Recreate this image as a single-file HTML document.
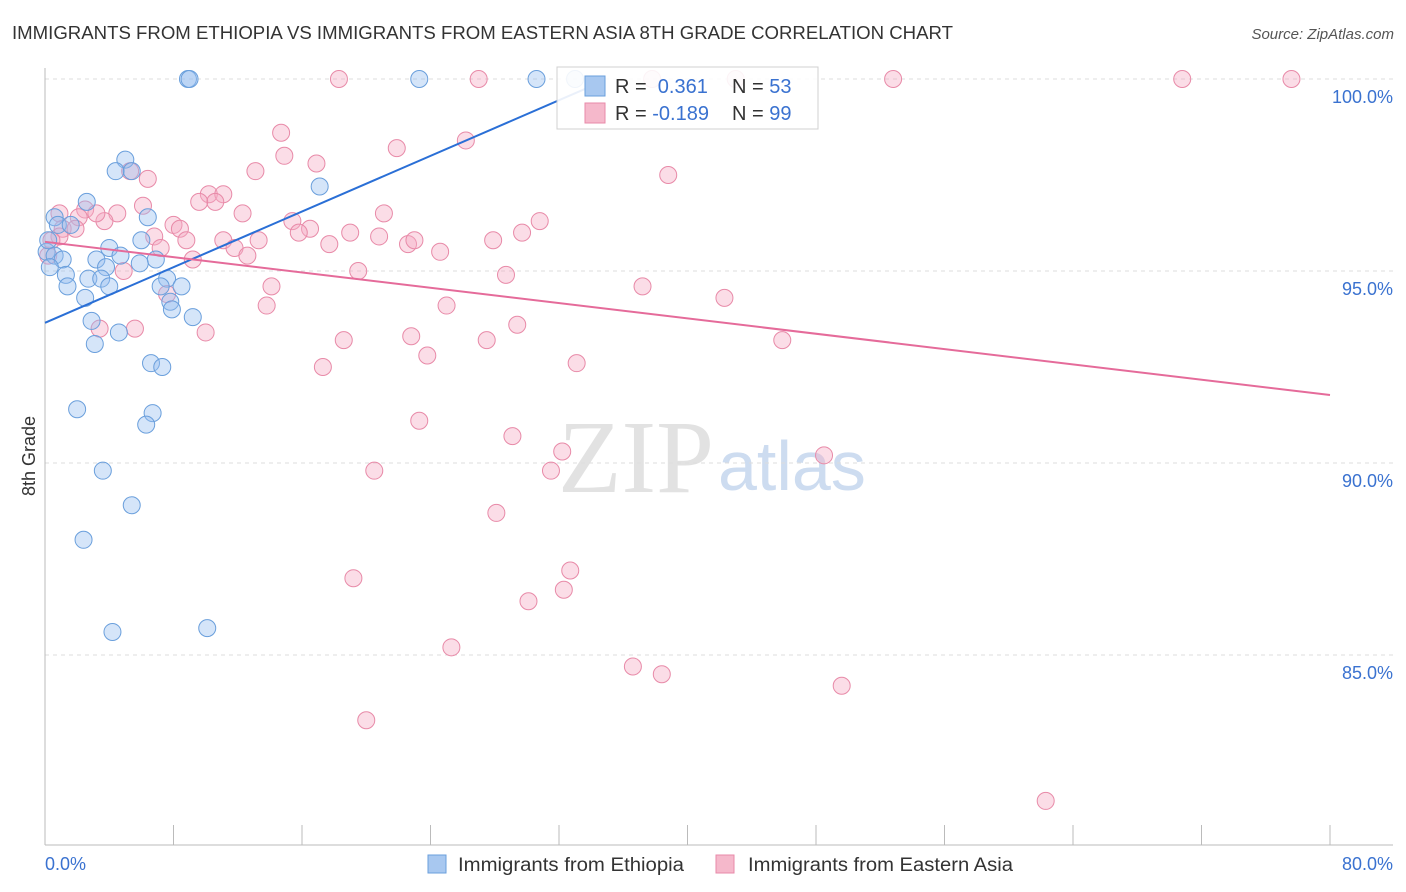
<!DOCTYPE html>
<html><head><meta charset="utf-8"><style>
body{margin:0;background:#fff;font-family:"Liberation Sans",sans-serif}
svg{display:block}
</style></head><body>
<svg id="chart" width="1406" height="892">
<text x="12" y="39" font-size="18" fill="#333" textLength="941" lengthAdjust="spacingAndGlyphs">IMMIGRANTS FROM ETHIOPIA VS IMMIGRANTS FROM EASTERN ASIA 8TH GRADE CORRELATION CHART</text>
<text x="1394" y="39" font-size="15" fill="#555" font-style="italic" text-anchor="end">Source: ZipAtlas.com</text>
<text x="714" y="492" font-size="104" font-family="Liberation Serif,serif" fill="#e2e2e2" text-anchor="end">ZIP</text>
<text x="718" y="490" font-size="70" fill="#cddcf0">atlas</text>
<text transform="translate(35,456) rotate(-90)" font-size="18" fill="#333" text-anchor="middle">8th Grade</text>
<g id="grid"></g><g id="marks"></g><g id="trends"></g>
<g>
<rect x="557" y="67" width="261" height="62" fill="#fff" stroke="#ccc" opacity="0.9"/>
<rect x="585" y="76" width="20" height="20" fill="#a8c8f0" stroke="#6a9fdc"/>
<rect x="585" y="103" width="20" height="20" fill="#f5b8cb" stroke="#e88aa8"/>
<text x="615" y="93" font-size="20" fill="#333">R = <tspan fill="#3a72d0">&#160;0.361</tspan><tspan x="732">N = </tspan><tspan fill="#3a72d0">53</tspan></text>
<text x="615" y="120" font-size="20" fill="#333">R = <tspan fill="#3a72d0">-0.189</tspan><tspan x="732">N = </tspan><tspan fill="#3a72d0">99</tspan></text>
</g>
<g>
<rect x="428" y="855" width="18" height="18" fill="#a8c8f0" stroke="#6a9fdc"/>
<text x="458" y="871" font-size="19" fill="#333" textLength="226" lengthAdjust="spacingAndGlyphs">Immigrants from Ethiopia</text>
<rect x="716" y="855" width="18" height="18" fill="#f5b8cb" stroke="#e88aa8"/>
<text x="748" y="871" font-size="19" fill="#333" textLength="265" lengthAdjust="spacingAndGlyphs">Immigrants from Eastern Asia</text>
</g>
</svg>
<script>
const yTicks=[100,95,90,85];
const yTickLabels=["100.0%","95.0%","90.0%","85.0%"];
const xTicks=[0,8,16,24,32,40,48,56,64,72,80];
const xTickLabels=["0.0%","80.0%"];
const ethX=[8.9,9.0,23.3,30.6,33.0,5.0,4.4,5.4,17.1,2.6,0.6,6.4,0.8,1.6,6.0,4.0,0.1,0.6,1.1,3.2,4.7,6.9,5.9,3.8,1.3,2.7,3.5,7.6,1.4,4.0,7.2,8.5,2.5,7.8,7.9,9.2,2.9,4.6,3.1,6.6,7.3,2.0,6.7,6.3,3.6,5.4,2.4,4.2,10.1,0.3,0.2];
const ethY=[100,100,100,100,100,97.9,97.6,97.6,97.2,96.8,96.4,96.4,96.2,96.2,95.8,95.6,95.5,95.4,95.3,95.3,95.4,95.3,95.2,95.1,94.9,94.8,94.8,94.8,94.6,94.6,94.6,94.6,94.3,94.2,94.0,93.8,93.7,93.4,93.1,92.6,92.5,91.4,91.3,91.0,89.8,88.9,88.0,85.6,85.7,95.1,95.8];
const easX=[18.3,27.0,37.8,43.0,52.8,70.8,77.6,14.7,26.2,21.9,14.9,16.9,38.8,13.1,6.4,5.3,10.2,11.1,10.6,9.6,12.3,6.1,2.5,0.9,4.5,2.1,3.7,8.0,1.1,1.9,8.4,6.8,15.4,16.5,15.8,19.0,20.8,30.8,29.7,21.1,0.9,8.8,11.1,11.8,13.3,17.7,22.6,23.0,24.6,27.9,12.6,7.2,9.2,4.9,19.5,28.7,37.2,42.3,14.1,7.6,25.0,13.8,10.0,5.6,3.4,29.4,27.5,22.8,18.6,23.8,33.1,45.9,17.3,23.3,29.1,48.5,20.5,31.5,32.2,28.1,32.7,19.2,32.3,30.1,25.3,36.6,38.4,49.6,20.0,62.3,0.2,0.4,3.2];
const easY=[100,100,100,100,100,100,100,98.6,98.4,98.2,98.0,97.8,97.5,97.6,97.4,97.6,97.0,97.0,96.8,96.8,96.5,96.7,96.6,96.5,96.5,96.4,96.3,96.2,96.1,96.1,96.1,95.9,96.3,96.1,96.0,96.0,95.9,96.3,96.0,96.5,95.9,95.8,95.8,95.6,95.8,95.7,95.7,95.8,95.5,95.8,95.4,95.6,95.3,95.0,95.0,94.9,94.6,94.3,94.6,94.4,94.1,94.1,93.4,93.5,93.5,93.6,93.2,93.3,93.2,92.8,92.6,93.2,92.5,91.1,90.7,90.2,89.8,89.8,90.3,88.7,87.2,87.0,86.7,86.4,85.2,84.7,84.5,84.2,83.3,81.2,95.4,95.8,96.5];
const ethTrendX=[0,34.5];
const ethTrendY=[93.65,99.9];
const easTrendX=[0,80];
const easTrendY=[95.76,91.77];
const NS="http://www.w3.org/2000/svg";
const sx=v=>45+v*(1285/80);
const sy=v=>79+(100-v)*38.4;
function mk(tag,attrs,parent){const e=document.createElementNS(NS,tag);for(const k in attrs)e.setAttribute(k,attrs[k]);parent.appendChild(e);return e;}
const grid=document.getElementById('grid');
yTicks.forEach((t,i)=>{
 const l=mk('line',{x1:45,x2:1393,y1:sy(t),y2:sy(t),stroke:'#ddd','stroke-dasharray':'4,4'},grid);
 
 
 const tx=mk('text',{x:1393,y:sy(t)+24,'font-size':18,fill:'#3a72d0','text-anchor':'end'},grid);
 tx.textContent=yTickLabels[i];
 
 
});
const ax=mk('line',{x1:45,x2:45,y1:68,y2:845,stroke:'#bbb'},grid);


const bx=mk('line',{x1:45,x2:1393,y1:845,y2:845,stroke:'#bbb'},grid);


xTicks.forEach(t=>{
 const l=mk('line',{x1:sx(t),x2:sx(t),y1:825,y2:845,stroke:'#bbb'},grid);
 
 
});
const xl0=mk('text',{x:45,y:870,'font-size':18,fill:'#3a72d0'},grid);xl0.textContent=xTickLabels[0];


const xl1=mk('text',{x:1393,y:870,'font-size':18,fill:'#3a72d0','text-anchor':'end'},grid);xl1.textContent=xTickLabels[1];


const marks=document.getElementById('marks');
easX.forEach((x,i)=>{
 const c=mk('circle',{cx:sx(x),cy:sy(easY[i]),r:8.5,fill:'rgba(245,170,195,0.4)',stroke:'#e88aa8','stroke-width':1},marks);
 
 
});
ethX.forEach((x,i)=>{
 const c=mk('circle',{cx:sx(x),cy:sy(ethY[i]),r:8.5,fill:'rgba(150,190,240,0.4)',stroke:'#6a9fdc','stroke-width':1},marks);
 
 
});
const tr=document.getElementById('trends');
const t1=mk('line',{x1:sx(ethTrendX[0]),y1:sy(ethTrendY[0]),x2:sx(ethTrendX[1]),y2:sy(ethTrendY[1]),stroke:'#2a6fd6','stroke-width':2},tr);


const t2=mk('line',{x1:sx(easTrendX[0]),y1:sy(easTrendY[0]),x2:sx(easTrendX[1]),y2:sy(easTrendY[1]),stroke:'#e56b9a','stroke-width':2},tr);


</script>
</body></html>
